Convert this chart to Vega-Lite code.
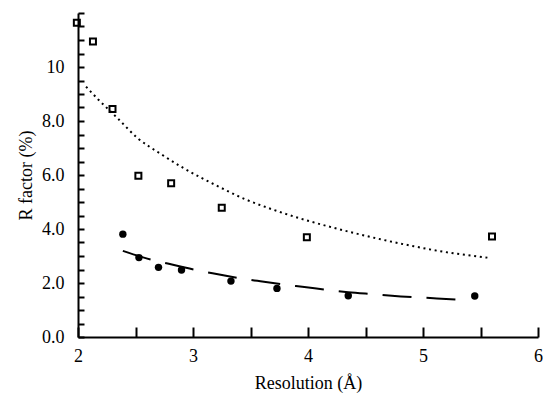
{
  "$schema": "https://vega.github.io/schema/vega-lite/v6.json",
  "width": 460,
  "height": 324,
  "autosize": {"type": "none"},
  "padding": {"left": 78, "top": 13, "right": 5, "bottom": 56},
  "background": "white",
  "config": {
    "view": {"stroke": null},
    "font": "Liberation Serif",
    "axis": {
      "grid": false,
      "domainColor": "black",
      "domainWidth": 2,
      "tickColor": "black",
      "tickWidth": 2,
      "labelColor": "black",
      "titleColor": "black",
      "labelFont": "Liberation Serif",
      "titleFont": "Liberation Serif",
      "labelFontSize": 18,
      "titleFontSize": 18,
      "titleFontWeight": "normal"
    }
  },
  "datasets": {
    "pts": [
      {"series": "open", "x": 1.99, "y": 11.64},
      {"series": "open", "x": 2.13, "y": 10.94},
      {"series": "open", "x": 2.30, "y": 8.44},
      {"series": "open", "x": 2.525, "y": 5.97},
      {"series": "open", "x": 2.81, "y": 5.69},
      {"series": "open", "x": 3.25, "y": 4.79},
      {"series": "open", "x": 3.99, "y": 3.69},
      {"series": "open", "x": 5.60, "y": 3.72},
      {"series": "filled", "x": 2.39, "y": 3.81},
      {"series": "filled", "x": 2.53, "y": 2.94},
      {"series": "filled", "x": 2.70, "y": 2.58},
      {"series": "filled", "x": 2.90, "y": 2.48},
      {"series": "filled", "x": 3.33, "y": 2.07},
      {"series": "filled", "x": 3.73, "y": 1.80},
      {"series": "filled", "x": 4.35, "y": 1.53},
      {"series": "filled", "x": 5.45, "y": 1.52}
    ],
    "dotted": [
      {"x": 2.07, "y": 9.27},
      {"x": 2.18, "y": 8.78},
      {"x": 2.34, "y": 8.12},
      {"x": 2.52, "y": 7.36},
      {"x": 2.72, "y": 6.78},
      {"x": 2.92, "y": 6.25},
      {"x": 3.2, "y": 5.62},
      {"x": 3.45, "y": 5.11},
      {"x": 3.7, "y": 4.71},
      {"x": 3.98, "y": 4.33},
      {"x": 4.3, "y": 3.96},
      {"x": 4.63, "y": 3.62},
      {"x": 4.92, "y": 3.36},
      {"x": 5.09, "y": 3.22},
      {"x": 5.3, "y": 3.08},
      {"x": 5.56, "y": 2.94}
    ],
    "dashed": [
      {"x": 2.39, "y": 3.19},
      {"x": 2.64, "y": 2.86},
      {"x": 2.78, "y": 2.72},
      {"x": 3.04, "y": 2.47},
      {"x": 3.17, "y": 2.36},
      {"x": 3.42, "y": 2.17},
      {"x": 3.56, "y": 2.08},
      {"x": 3.81, "y": 1.93},
      {"x": 3.95, "y": 1.86},
      {"x": 4.2, "y": 1.73},
      {"x": 4.35, "y": 1.66},
      {"x": 4.59, "y": 1.58},
      {"x": 4.73, "y": 1.53},
      {"x": 4.99, "y": 1.46},
      {"x": 5.12, "y": 1.43},
      {"x": 5.37, "y": 1.37}
    ]
  },
  "encoding": {
    "x": {
      "field": "x",
      "type": "quantitative",
      "scale": {"domain": [2, 6], "nice": false, "zero": false},
      "axis": {
        "title": "Resolution (Å)",
        "values": [2, 2.5, 3, 3.5, 4, 4.5, 5, 5.5, 6],
        "labelExpr": "datum.value % 1 === 0 ? format(datum.value, 'd') : ''",
        "tickSize": -10,
        "labelPadding": 20,
        "titlePadding": 9,
        "labelFlush": false,
        "labelOverlap": false
      }
    },
    "y": {
      "field": "y",
      "type": "quantitative",
      "scale": {"domain": [0, 12], "nice": false},
      "axis": {
        "title": "R factor (%)",
        "values": [0, 0.5, 1, 1.5, 2, 2.5, 3, 3.5, 4, 4.5, 5, 5.5, 6, 6.5, 7, 7.5, 8, 8.5, 9, 9.5, 10, 10.5, 11, 11.5, 12],
        "labelExpr": "datum.value % 2 === 0 && datum.value <= 10 ? (datum.value >= 10 ? '10' : format(datum.value, '.1f')) : ''",
        "tickSize": -6,
        "labelPadding": 20,
        "titlePadding": 6,
        "labelFlush": false,
        "labelOverlap": false
      }
    }
  },
  "layer": [
    {
      "data": {"name": "dotted"},
      "mark": {"type": "line", "color": "black", "strokeWidth": 2, "strokeDash": [2, 3.7], "interpolate": "monotone"}
    },
    {
      "data": {"name": "dashed"},
      "mark": {"type": "line", "color": "black", "strokeWidth": 2, "strokeDash": [29, 15], "interpolate": "monotone"}
    },
    {
      "data": {"name": "pts"},
      "transform": [{"filter": "datum.series === 'open'"}],
      "mark": {"type": "point", "shape": "square", "filled": false, "color": "black", "strokeWidth": 2, "size": 36, "opacity": 1}
    },
    {
      "data": {"name": "pts"},
      "transform": [{"filter": "datum.series === 'filled'"}],
      "mark": {"type": "circle", "color": "black", "size": 55, "opacity": 1}
    }
  ]
}
